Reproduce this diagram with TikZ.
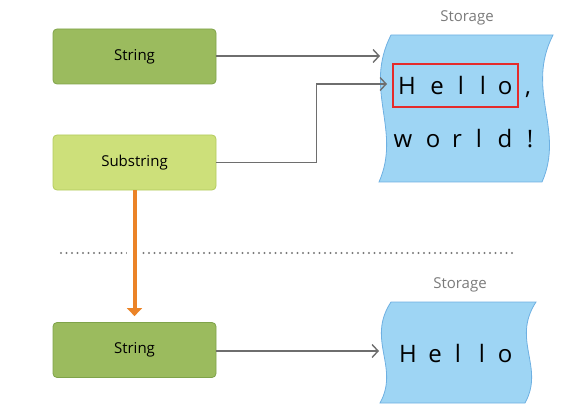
\documentclass[tikz,border=0pt]{standalone}
\usepackage{fontspec}
\setmainfont{Open Sans}
\usetikzlibrary{arrows.meta}
\definecolor{strfill}{HTML}{9BBB5E}
\definecolor{strline}{HTML}{7FA34A}
\definecolor{subfill}{HTML}{CDE07A}
\definecolor{subline}{HTML}{B3CB5E}
\definecolor{storefill}{HTML}{9ED5F4}
\definecolor{storeline}{HTML}{6EB0E2}
\definecolor{linkgray}{HTML}{6E6E6E}
\definecolor{labelgray}{HTML}{7A7A7A}
\definecolor{moveorange}{HTML}{EB8327}
\definecolor{marker}{HTML}{E52B2B}
\tikzset{
  typebox/.style={draw, rounded corners=4pt, line width=0.8pt, minimum width=163pt,
    minimum height=55pt, font=\fontsize{15}{17}\selectfont, inner sep=0pt},
  strbox/.style={typebox, fill=strfill, draw=strline},
  subbox/.style={typebox, fill=subfill, draw=subline},
  storage/.style={fill=storefill, draw=storeline, line width=0.8pt},
  storelabel/.style={text=labelgray, font=\fontsize{15}{17}\selectfont},
  glyph/.style={anchor=base, font=\fontsize{24}{28}\selectfont, inner sep=0pt},
  link/.style={draw=linkgray, line width=1.3pt, -{Straight Barb[length=6pt,width=13pt,line width=1.4pt]}},
  move/.style={draw=moveorange, line width=4pt, -{Triangle[length=8pt,width=15pt]}},
}
\begin{document}
\begin{tikzpicture}[x=1pt,y=-1pt]
\useasboundingbox (0,0) rectangle (582,412);

% storage buffers
\draw[storage] (391,35) -- (553,35) .. controls (525,90) and (565,130) .. (542,182)
  -- (379,182) .. controls (402,130) and (363,90) .. (391,35) -- cycle;
\draw[storage] (391,302) -- (536,302) .. controls (511,340) and (545,367) .. (525,403)
  -- (380,403) .. controls (400,367) and (366,340) .. (391,302) -- cycle;

\node[storelabel] (lab1) at (467,18) {Storage};
\node[storelabel] (lab2) at (460,285) {Storage};

% characters held in the first buffer
\node[glyph] (c1) at (407,95) {H};
\node[glyph] (c2) at (437,95) {e};
\node[glyph] (c3) at (461,95) {l};
\node[glyph] (c4) at (483,95) {l};
\node[glyph] (c5) at (505,95) {o};
\node[glyph] (c6) at (528,95) {,};
\node[glyph] (c7) at (403,147) {w};
\node[glyph] (c8) at (433,147) {o};
\node[glyph] (c9) at (457,147) {r};
\node[glyph] (c10) at (479,147) {l};
\node[glyph] (c11) at (505,147) {d};
\node[glyph] (c12) at (530,147) {!};
\draw[marker, line width=1.2pt] (393,64) rectangle (518,107);

% characters held in the second buffer
\node[glyph] (d1) at (408,362) {H};
\node[glyph] (d2) at (435,362) {e};
\node[glyph] (d3) at (458,362) {l};
\node[glyph] (d4) at (482,362) {l};
\node[glyph] (d5) at (505,362) {o};

% types
\node[strbox] (str1) at (134.5,56.5) {String};
\node[subbox] (sub) at (134.5,162.5) {Substring};
\node[strbox] (str2) at (134.5,350) {String};

\coordinate (in1) at (380,56);
\coordinate (in2) at (387,84);
\coordinate (in3) at (379,351);

\draw[link] (str1.east |- in1) -- (in1);
\draw[link] (sub.east) -- ++(100,0) |- (in2);
\draw[link] (str2.east |- in3) -- (in3);

% separator, broken where the move arrow crosses it
\draw[labelgray, line width=2.4pt, line cap=round, dash pattern=on 0pt off 5.5pt]
  (61,253) -- (512,253);
\fill[white] (127,246) rectangle (141,260);

\draw[move, shorten >=6pt] (sub.south) -- (str2.north);
\end{tikzpicture}
\end{document}
